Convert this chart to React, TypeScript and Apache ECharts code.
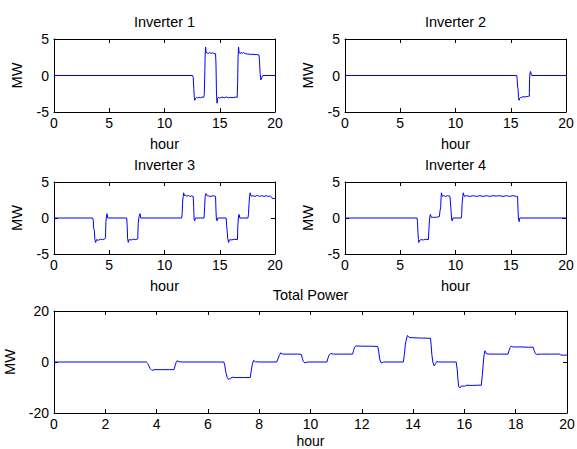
import React, { useEffect, useRef } from "react";
import * as echarts from "echarts";

// ---- data: [hour, MW] ----
const inv1: [number, number][] = [
  [0, 0], [12.55, 0], [12.6, -0.3], [12.65, -1.8], [12.7, -3.0], [12.75, -3.4], [12.8, -3.1], [12.9, -3.0], [13.0, -3.1], [13.1, -3.0],
  [13.25, -3.05], [13.4, -2.95], [13.55, -3.0], [13.6, -2.6], [13.65, 0.5], [13.68, 2.8], [13.72, 3.9], [13.76, 3.2], [13.85, 3.1],
  [13.95, 3.0], [14.05, 3.15], [14.2, 3.05], [14.35, 3.1], [14.5, 3.0], [14.62, 3.0], [14.66, 1.5], [14.7, -2.0], [14.73, -3.3],
  [14.76, -3.8], [14.8, -3.1], [14.9, -3.0], [15.0, -3.1], [15.2, -2.95], [15.4, -3.05], [15.6, -2.95], [15.8, -3.05], [16.0, -3.0],
  [16.2, -3.05], [16.4, -2.95], [16.58, -3.0], [16.62, -1.0], [16.66, 2.5], [16.7, 3.9], [16.75, 3.2], [16.85, 3.0], [16.95, 3.2],
  [17.05, 3.0], [17.15, 3.15], [17.3, 3.0], [17.5, 2.95], [17.8, 2.9], [18.1, 2.9], [18.4, 2.85], [18.55, 2.8], [18.6, 2.0],
  [18.65, 0.3], [18.72, -0.6], [18.8, -0.3], [18.9, 0], [20, 0],
];
const inv2: [number, number][] = [
  [0, 0], [15.55, 0], [15.58, -0.5], [15.62, -1.6], [15.66, -1.8], [15.7, -3.0], [15.75, -3.4], [15.8, -3.1], [15.9, -3.0],
  [16.0, -3.05], [16.1, -2.85], [16.2, -2.95], [16.4, -2.9], [16.6, -2.85], [16.68, -2.85], [16.7, -0.5], [16.75, 0.4],
  [16.8, 0.55], [16.85, 0.2], [16.9, 0], [20, 0],
];
const inv3: [number, number][] = [
  [0, 0], [3.5, 0], [3.55, -0.3], [3.6, -1.5], [3.65, -1.7], [3.7, -3.0], [3.77, -3.4], [3.85, -3.0], [4.0, -3.1], [4.2, -2.95],
  [4.4, -3.0], [4.6, -2.9], [4.66, -2.7], [4.7, -0.5], [4.75, 0.3], [4.8, 0.6], [4.87, 0], [6.58, 0], [6.62, -1.0], [6.66, -2.8],
  [6.72, -3.4], [6.8, -3.0], [7.0, -3.05], [7.2, -2.95], [7.4, -3.0], [7.58, -2.9], [7.62, -0.8], [7.7, 0.2], [7.78, 0.6],
  [7.85, 0], [11.55, 0], [11.6, 0.6], [11.65, 2.5], [11.7, 3.0], [11.73, 3.5], [11.8, 3.1], [11.9, 3.2], [12.0, 3.0],
  [12.15, 3.15], [12.3, 3.0], [12.45, 3.05], [12.6, 3.0], [12.64, 1.5], [12.68, -0.2], [12.73, -0.4], [12.8, 0], [13.58, 0],
  [13.63, 1.5], [13.68, 3.0], [13.75, 3.4], [13.85, 3.1], [14.0, 3.05], [14.2, 3.0], [14.4, 3.1], [14.62, 3.0], [14.66, 1.0],
  [14.7, -0.2], [14.75, -0.4], [14.82, 0], [15.58, 0], [15.62, -1.0], [15.66, -1.6], [15.72, -2.8], [15.8, -3.4], [15.9, -3.0],
  [16.1, -3.05], [16.3, -2.95], [16.6, -3.0], [16.64, -1.0], [16.7, 0.3], [16.75, 0.5], [16.82, 0], [17.55, 0], [17.6, 0.5],
  [17.65, 2.0], [17.7, 3.0], [17.75, 3.5], [17.85, 3.0], [18.0, 3.1], [18.2, 3.0], [18.4, 3.15], [18.6, 3.0], [18.8, 3.1],
  [19.0, 3.0], [19.2, 3.1], [19.4, 3.0], [19.6, 3.05], [19.7, 2.9], [19.75, 2.7], [20, 2.7],
];
const inv4: [number, number][] = [
  [0, 0], [6.52, 0], [6.56, -0.5], [6.6, -2.0], [6.65, -3.0], [6.68, -3.4], [6.75, -3.1], [6.9, -3.0], [7.1, -3.05], [7.3, -2.95],
  [7.55, -3.0], [7.6, -1.5], [7.64, -0.3], [7.7, 0.3], [7.73, 0.5], [7.8, 0.1], [8.0, 0.1], [8.3, 0.1], [8.54, 0.2], [8.6, 1.0],
  [8.66, 1.5], [8.7, 3.0], [8.73, 3.5], [8.8, 3.0], [8.95, 3.1], [9.1, 3.0], [9.3, 3.1], [9.5, 3.0], [9.56, 3.0], [9.6, 1.0],
  [9.65, -0.2], [9.7, -0.4], [9.77, 0], [10.52, 0], [10.56, 0.5], [10.6, 2.0], [10.66, 3.0], [10.7, 3.5], [10.8, 3.0], [11.0, 3.1],
  [11.3, 3.0], [11.6, 3.1], [11.9, 3.0], [12.2, 3.1], [12.5, 3.0], [12.8, 3.1], [13.1, 3.0], [13.4, 3.1], [13.7, 3.05], [14.0, 3.1],
  [14.3, 3.0], [14.6, 3.1], [14.9, 3.0], [15.2, 3.1], [15.5, 3.0], [15.62, 3.0], [15.66, 1.0], [15.7, -0.2], [15.76, -0.5],
  [15.82, 0], [20, 0],
];
const total: [number, number][] = [
  [0, 0], [3.6, 0], [3.65, -0.5], [3.7, -1.5], [3.75, -2.6], [3.82, -3.3], [3.9, -3.0], [4.2, -3.0], [4.5, -3.0], [4.68, -3.0],
  [4.72, -1.5], [4.76, -0.2], [4.8, 0.5], [4.87, 0.1], [5.0, 0], [6.62, 0], [6.66, -1.5], [6.7, -4], [6.75, -6.0], [6.8, -6.8],
  [6.87, -6.5], [6.95, -6.0], [7.1, -6.1], [7.4, -6.1], [7.65, -6.1], [7.69, -3.5], [7.73, -1], [7.78, 0.6], [7.85, 0.1], [8.0, 0],
  [8.68, 0], [8.73, 1.2], [8.78, 2.5], [8.84, 3.6], [8.92, 3.1], [9.2, 3.1], [9.5, 3.1], [9.64, 3.0], [9.68, 1.5], [9.72, 0.2],
  [9.78, -0.3], [9.9, 0], [10.64, 0], [10.68, 1.5], [10.73, 2.8], [10.78, 3.3], [10.9, 3.1], [11.3, 3.1], [11.64, 3.1],
  [11.68, 4.5], [11.72, 5.8], [11.77, 6.3], [12.0, 6.2], [12.3, 6.2], [12.62, 6.1], [12.66, 4.0], [12.7, 1.0], [12.76, -0.4],
  [12.85, 0], [13.62, 0], [13.66, 3.0], [13.7, 7.0], [13.74, 9.0], [13.78, 10.4], [13.85, 9.6], [14.0, 9.5], [14.3, 9.4],
  [14.68, 9.3], [14.7, 7.0], [14.73, 3.0], [14.77, 0], [14.82, -1.5], [14.88, -0.6], [14.92, 0.2], [15.0, 0], [15.68, 0],
  [15.72, -3.0], [15.75, -7.0], [15.78, -9.8], [15.82, -10.2], [15.88, -9.4], [16.0, -9.5], [16.1, -9.1], [16.3, -9.2],
  [16.5, -9.1], [16.66, -9.1], [16.7, -5.0], [16.74, 0], [16.77, 3.0], [16.8, 4.4], [16.86, 3.2], [17.0, 3.1], [17.4, 3.1],
  [17.7, 3.1], [17.74, 4.5], [17.78, 5.6], [17.82, 6.2], [17.9, 5.9], [18.2, 5.9], [18.5, 5.8], [18.68, 5.8], [18.72, 4.5],
  [18.76, 3.4], [18.8, 3.0], [19.0, 3.1], [19.4, 3.1], [19.72, 3.1], [19.76, 2.7], [20, 2.7],
];

const titles = ["Inverter 1", "Inverter 2", "Inverter 3", "Inverter 4", "Total Power"];
const seriesData = [inv1, inv2, inv3, inv4, total];
const xRange = { min: 0, max: 20 };
const xIntervals = [5, 5, 5, 5, 2];
const yRanges = [
  { min: -5, max: 5, interval: 5 },
  { min: -5, max: 5, interval: 5 },
  { min: -5, max: 5, interval: 5 },
  { min: -5, max: 5, interval: 5 },
  { min: -20, max: 20, interval: 20 },
];
const xName = "hour";
const yName = "MW";

const FONT = "'Liberation Sans', Arial, Helvetica, sans-serif";
const grids = [
  { left: 54, top: 39, width: 221, height: 73 },
  { left: 345, top: 39, width: 221, height: 73 },
  { left: 54, top: 182, width: 221, height: 72 },
  { left: 345, top: 182, width: 221, height: 72 },
  { left: 54, top: 311, width: 513, height: 102 },
];
const yNameGaps = [30, 30, 30, 30, 37];
const xNameGaps = [24, 24, 24, 24, 20];

export default function App() {
  const ref = useRef<HTMLDivElement>(null);
  useEffect(() => {
    if (!ref.current) return;
    const chart = echarts.init(ref.current, undefined, { renderer: "svg" });
    const line = { show: true, onZero: false, lineStyle: { color: "#000", width: 1 } };
    const tick = { show: true, inside: true, length: 4, lineStyle: { color: "#000", width: 1 } };
    const label = { color: "#000", fontSize: 14, fontFamily: FONT };
    const nameStyle = { color: "#000", fontSize: 14.5, fontFamily: FONT };
    const xAxis: any[] = [];
    const yAxis: any[] = [];
    grids.forEach((_, i) => {
      xAxis.push({
        type: "value", gridIndex: i, position: "bottom", ...xRange, interval: xIntervals[i],
        axisLine: line, axisTick: tick, splitLine: { show: false },
        axisLabel: { ...label, margin: 4 },
        name: xName, nameLocation: "middle", nameGap: xNameGaps[i],
        nameTextStyle: i === 4 ? { ...nameStyle, fontSize: 14, lineHeight: 15 } : nameStyle,
      });
      xAxis.push({
        type: "value", gridIndex: i, position: "top", ...xRange, interval: xIntervals[i],
        axisLine: line, axisTick: tick, splitLine: { show: false }, axisLabel: { show: false },
      });
      yAxis.push({
        type: "value", gridIndex: i, position: "left", ...yRanges[i],
        axisLine: line, axisTick: tick, splitLine: { show: false },
        axisLabel: { ...label, margin: 5 },
        name: yName, nameLocation: "middle", nameGap: yNameGaps[i], nameTextStyle: nameStyle,
      });
      yAxis.push({
        type: "value", gridIndex: i, position: "right", ...yRanges[i],
        axisLine: line, axisTick: tick, splitLine: { show: false }, axisLabel: { show: false },
      });
    });
    chart.setOption({
      animation: false,
      backgroundColor: "#fff",
      title: titles.map((t, i) => ({
        text: t,
        left: grids[i].left + grids[i].width / 2,
        top: i === 4 ? 287 : grids[i].top - 25,
        textAlign: "center",
        padding: 0,
        textStyle: { color: "#000", fontSize: 14.5, fontWeight: "normal", fontFamily: FONT },
      })),
      grid: grids.map((g) => ({ ...g, show: false, containLabel: false, outerBoundsMode: "none" })),
      xAxis,
      yAxis,
      series: seriesData.map((d, i) => ({
        type: "line",
        xAxisIndex: i * 2,
        yAxisIndex: i * 2,
        data: d,
        showSymbol: false,
        symbol: "none",
        lineStyle: { color: "#0000ff", width: 1 },
        silent: true,
      })),
    });
    return () => chart.dispose();
  }, []);
  return (
    <div
      ref={ref}
      style={{ position: "fixed", left: 0, top: 0, width: 577, height: 449, background: "#fff" }}
    />
  );
}
